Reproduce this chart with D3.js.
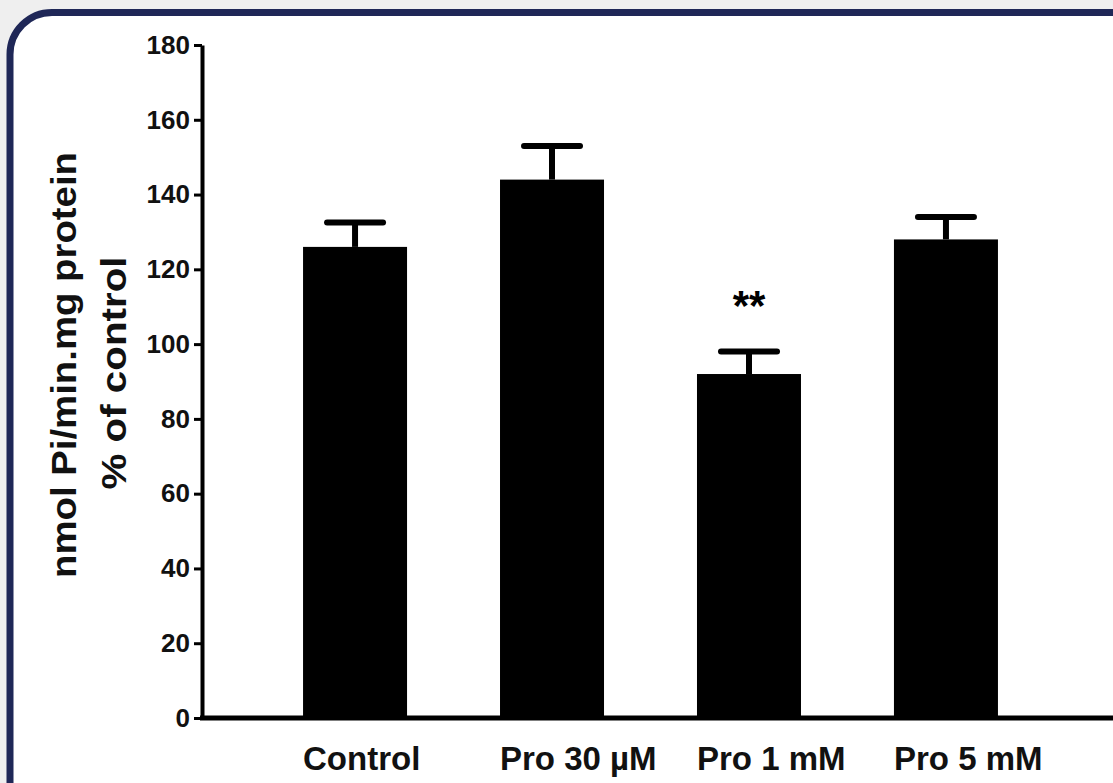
<!DOCTYPE html>
<html>
<head>
<meta charset="utf-8">
<script src="https://cdn.jsdelivr.net/npm/d3@7"></script>
<style>
  html, body { margin: 0; padding: 0; background: #efefef; }
  svg { display: block; font-family: "Liberation Sans", Arial, sans-serif; font-weight: bold; }
</style>
</head>
<body>
<svg id="chart"></svg>
<script>
// data
const groups = ["Control", "Pro 30 \u00b5M", "Pro 1 mM", "Pro 5 mM"];
const means = [126, 144, 92, 128];
const errs = [6.5, 9, 6, 6];
const marks = ["", "", "**", ""];
const yTicks = [0, 20, 40, 60, 80, 100, 120, 140, 160, 180];

const width = 1113, height = 783;

const svg = d3.select("#chart")
    .attr("width", width)
    .attr("height", height);

// rounded frame, open to the right / bottom
svg.append("rect")
    .attr("x", 10).attr("y", 12.5)
    .attr("width", 1200).attr("height", 900)
    .attr("rx", 42).attr("ry", 42)
    .style("fill", "white")
    .style("stroke", "#1f2757")
    .style("stroke-width", 7);

const x0 = 202, yBase = 718, yTop = 45;

const y = d3.scaleLinear()
    .domain([0, 180])
    .range([yBase, yTop]);

const x = d3.scaleBand()
    .domain(groups)
    .range([x0, 1099])
    .paddingInner(0.472)
    .paddingOuter(0.513);

const g = svg.append("g");

// bars
g.selectAll(".bar")
    .data(groups)
    .enter().append("rect")
    .attr("class", "bar")
    .attr("x", d => x(d))
    .attr("width", x.bandwidth())
    .attr("y", (d, i) => y(means[i]))
    .attr("height", (d, i) => yBase - y(means[i]))
    .style("fill", "black");

// error bars (upper only)
const capW = 56;
groups.forEach(function (d, i) {
    const cx = x(d) + x.bandwidth() / 2;
    const top = y(means[i] + errs[i]);
    g.append("line")
        .attr("x1", cx).attr("x2", cx)
        .attr("y1", y(means[i])).attr("y2", top)
        .style("stroke", "black").style("stroke-width", 6);
    g.append("line")
        .attr("x1", cx - capW / 2).attr("x2", cx + capW / 2)
        .attr("y1", top).attr("y2", top)
        .style("stroke", "black").style("stroke-width", 6)
        .style("stroke-linecap", "round");
    if (marks[i]) {
        g.append("text")
            .attr("x", cx)
            .attr("y", top - 32)
            .attr("text-anchor", "middle")
            .style("font-size", "42px")
            .text(marks[i]);
    }
});

// y axis
const yAxis = g.append("g")
    .attr("transform", "translate(" + x0 + ",0)")
    .call(d3.axisLeft(y).tickValues(yTicks).tickSize(8).tickSizeOuter(0).tickPadding(4));
yAxis.select(".domain").style("stroke-width", 4);
yAxis.selectAll(".tick line").style("stroke-width", 3);
yAxis.selectAll(".tick text")
    .style("font-size", "26px")
    .style("font-family", "Liberation Sans, Arial, sans-serif")
    .style("font-weight", "bold")
    .style("fill", "#111");

// x axis line
g.append("line")
    .attr("x1", x0 - 2).attr("x2", width)
    .attr("y1", yBase).attr("y2", yBase)
    .style("stroke", "black").style("stroke-width", 5);

// x labels, left edge lines up with the bar
g.selectAll(".xlab")
    .data(groups)
    .enter().append("text")
    .attr("class", "xlab")
    .attr("x", d => x(d))
    .attr("y", 770)
    .style("font-size", "33px")
    .style("fill", "#111")
    .text(d => d);

// y title
g.append("text")
    .attr("transform", "translate(76,365) rotate(-90)")
    .attr("text-anchor", "middle")
    .attr("textLength", 426)
    .attr("lengthAdjust", "spacingAndGlyphs")
    .style("font-size", "35px")
    .style("fill", "#111")
    .text("nmol Pi/min.mg protein");
g.append("text")
    .attr("transform", "translate(126,373) rotate(-90)")
    .attr("text-anchor", "middle")
    .attr("textLength", 233)
    .attr("lengthAdjust", "spacingAndGlyphs")
    .style("font-size", "35px")
    .style("fill", "#111")
    .text("% of control");
</script>
</body>
</html>
